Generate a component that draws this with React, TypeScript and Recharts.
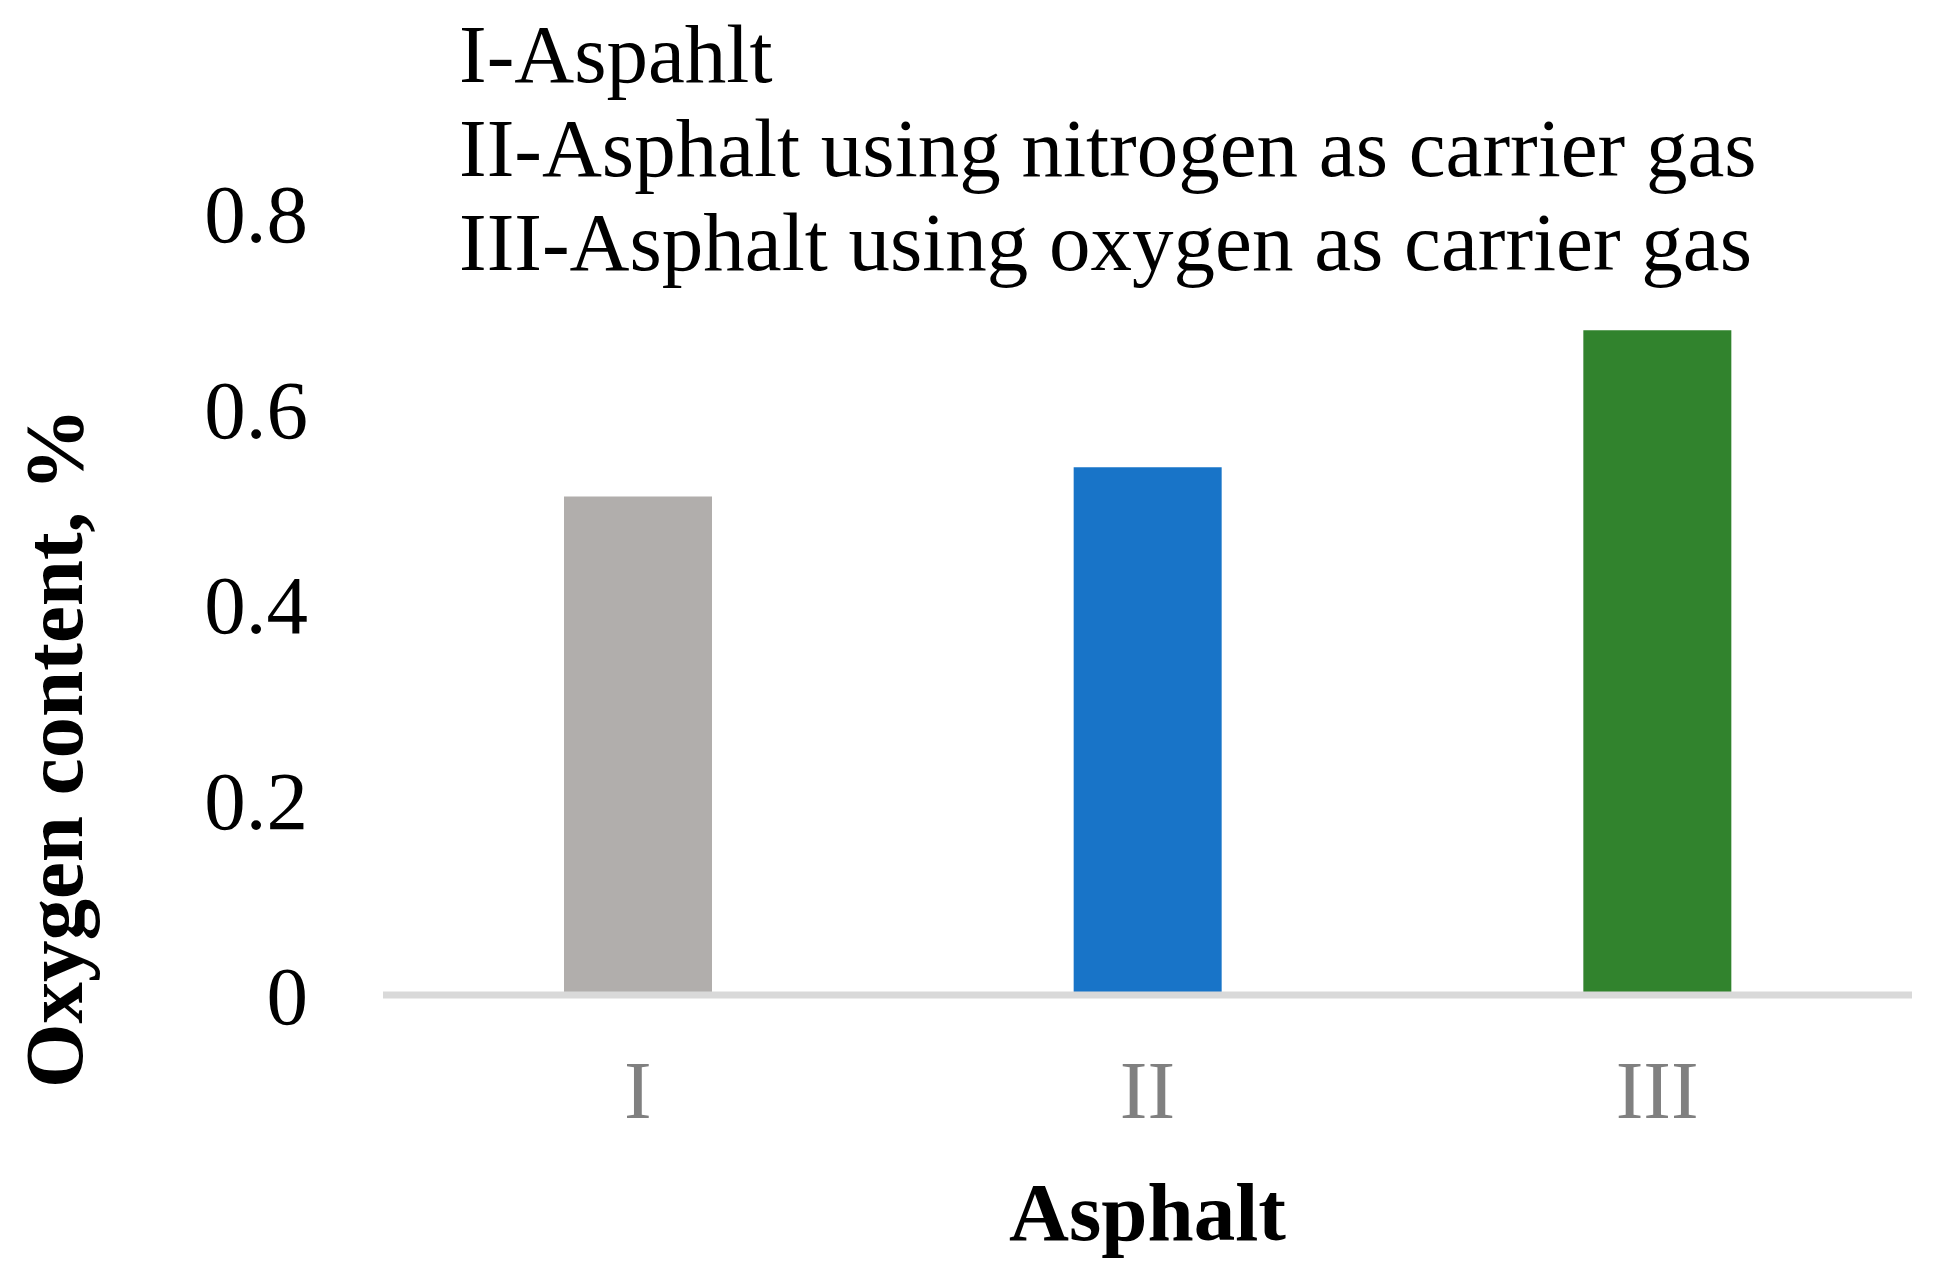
import React from 'react';
import { BarChart, Bar, XAxis, YAxis, Cell, Label } from 'recharts';

const categories = ['I', 'II', 'III'];
const oxygenContent = [0.51, 0.54, 0.68];
const barColors = ['#b1aeac', '#1874c8', '#31832d'];
const yTicks = [0, 0.2, 0.4, 0.6, 0.8];
const legendLines = [
  'I-Aspahlt',
  'II-Asphalt using nitrogen as carrier gas',
  'III-Asphalt using oxygen as carrier gas',
];

const data = categories.map((name, i) => ({ name, value: oxygenContent[i] }));

const FONT = '"Liberation Serif", "Times New Roman", serif';

export default function App() {
  return (
    <div style={{ position: 'absolute', left: 0, top: 0, width: 1935, height: 1277, background: '#fff' }}>
      <BarChart
        width={1935}
        height={1277}
        data={data}
        margin={{ top: 213, right: 23, left: 0, bottom: 0 }}
        barSize={148}
      >
        <XAxis
          dataKey="name"
          height={282}
          axisLine={{ stroke: '#d9d9d9', strokeWidth: 7 }}
          tickLine={false}
          tickSize={0}
          tickMargin={64}
          tick={{ fill: '#808080', fontSize: 83, fontFamily: FONT }}
        >
          <Label
            content={({ viewBox }: any) => (
              <text
                x={viewBox.x + viewBox.width / 2}
                y={1240}
                textAnchor="middle"
                fontFamily={FONT}
                fontWeight="bold"
                fontSize={83}
                fill="#000"
              >
                Asphalt
              </text>
            )}
          />
        </XAxis>
        <YAxis
          width={383}
          domain={[0, 0.8]}
          ticks={yTicks}
          axisLine={false}
          tickLine={false}
          tickSize={0}
          tickMargin={75}
          tick={{ fill: '#000', fontSize: 83, fontFamily: FONT }}
        >
          <Label
            content={() => (
              <text
                x={82}
                y={748}
                transform="rotate(-90, 82, 748)"
                textAnchor="middle"
                fontFamily={FONT}
                fontWeight="bold"
                fontSize={83}
                fill="#000"
              >
                Oxygen content, %
              </text>
            )}
          />
        </YAxis>
        <Bar dataKey="value" isAnimationActive={false}>
          {data.map((d, i) => (
            <Cell key={d.name} fill={barColors[i]} />
          ))}
        </Bar>
      </BarChart>
      <svg
        width={1935}
        height={300}
        style={{ position: 'absolute', left: 0, top: 0, pointerEvents: 'none' }}
      >
        {legendLines.map((line, i) => (
          <text key={line} x={459} y={82 + i * 94} fontFamily={FONT} fontSize={83} fill="#000">
            {line}
          </text>
        ))}
      </svg>
    </div>
  );
}
